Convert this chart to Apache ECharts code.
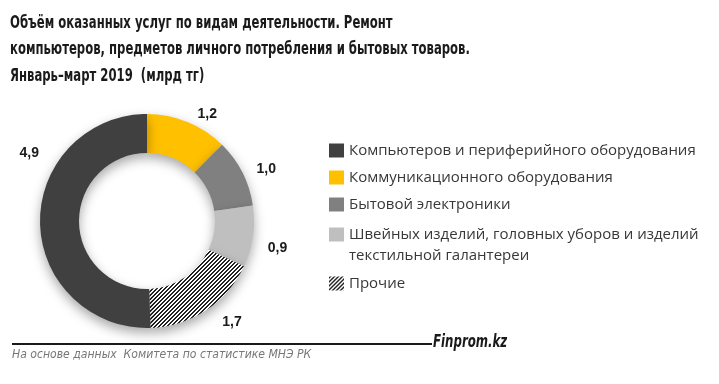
<!DOCTYPE html>
<html><head><meta charset="utf-8">
<script src="https://cdn.jsdelivr.net/npm/echarts@6/dist/echarts.min.js"></script>
<style>html,body{margin:0;padding:0;background:#fff}#c{width:719px;height:384px}</style>
</head><body><div id="c"></div>
<script>
var titleLines = ['Объём оказанных услуг по видам деятельности. Ремонт', 'компьютеров, предметов личного потребления и бытовых товаров.', 'Январь–март 2019  (млрд тг)'];
// clockwise order from 12 o'clock
var categories = ['Коммуникационного оборудования', 'Бытовой электроники', 'Швейных изделий, головных уборов и изделий текстильной галантереи', 'Прочие', 'Компьютеров и периферийного оборудования'];
var values = [1.2, 1.0, 0.9, 1.7, 4.9];
var legendOrder = ['Компьютеров и периферийного оборудования', 'Коммуникационного оборудования', 'Бытовой электроники', 'Швейных изделий, головных уборов и изделий текстильной галантереи', 'Прочие'];
var sourceText = 'На основе данных  Комитета по статистике МНЭ РК';
var brandText = 'Finprom.kz';

var TF = 'DejaVu Sans Condensed';

// hatch pattern
var tile = document.createElement('canvas');
tile.width = 4; tile.height = 4;
var tctx = tile.getContext('2d');
tctx.fillStyle = '#fff'; tctx.fillRect(0,0,4,4);
tctx.fillStyle = '#222';
for (var x = 0; x < 4; x++) for (var y = 0; y < 4; y++) if ((x + y) % 4 < 2) tctx.fillRect(x, y, 1, 1);
var hatch = {image: tile, repeat: 'repeat'};

var colors = ['#FFC000', '#808080', '#BFBFBF', hatch, '#404040'];

var data = categories.map(function (c, i) {
  return {name: c, value: values[i], itemStyle: {color: colors[i]}};
});

var legendTextStyle = {fontFamily: 'Open Sans', fontSize: 15, color: '#383838'};
var legendTops = [143, 170, 197, 227, 276];
var legends = legendOrder.map(function (n, i) {
  var two = n.indexOf('Швейных') === 0;
  return {
    left: 329, top: legendTops[i], orient: 'vertical',
    data: [n], icon: 'rect', itemWidth: 15, itemHeight: 14, itemGap: 0, padding: 0,
    selectedMode: false,
    formatter: function (name) { return two ? 'Швейных изделий, головных уборов и изделий' : name; },
    textStyle: legendTextStyle
  };
});

var chart = echarts.init(document.getElementById('c'), null, {renderer: 'canvas'});
chart.setOption({
  animation: false,
  legend: legends,
  series: [{
    type: 'pie', center: [147, 221], radius: [68, 107], startAngle: 90, clockwise: true,
    avoidLabelOverlap: false,
    data: data,
    itemStyle: {shadowBlur: 12, shadowOffsetY: 5, shadowColor: 'rgba(0,0,0,0.35)'},
    label: {
      show: true, position: 'outside',
      formatter: function (p) { return String(p.value.toFixed(1)).replace('.', ','); },
      fontFamily: 'Liberation Sans', fontWeight: 'bold', fontSize: 14, color: '#1a1a1a'
    },
    labelLine: {show: false, length: 8, length2: 2},
    labelLayout: function (p) {
      if (p.dataIndex === 4) return {dx: 14, dy: -70};
      if (p.dataIndex === 2) return {dy: 10};
      if (p.dataIndex === 3) return {dx: 5, dy: 5};
      return {};
    },
    emphasis: {disabled: true}
  }],
  graphic: [
    {type: 'text', x: 10, y: 10, scaleX: 0.74, style: {text: titleLines.join('\n'), fontFamily: TF, fontWeight: 'bold', fontSize: 17.5, lineHeight: 26.5, fill: '#1a1a1a'}},
    {type: 'text', left: 349, top: 248, style: {text: 'текстильной галантереи', font: '15px "Open Sans"', fill: '#383838'}},
    {type: 'line', shape: {x1: 12, y1: 344, x2: 432, y2: 344}, style: {stroke: '#1a1a1a', lineWidth: 2}},
    {type: 'text', x: 433, y: 334, scaleX: 0.77, style: {text: brandText, fontFamily: TF, fontStyle: 'italic', fontWeight: 'bold', fontSize: 17, fill: '#1a1a1a'}},
    {type: 'text', x: 12, y: 348, scaleX: 0.93, style: {text: sourceText, fontFamily: TF, fontStyle: 'italic', fontSize: 13, fill: '#777'}}
  ]
});
</script></body></html>
